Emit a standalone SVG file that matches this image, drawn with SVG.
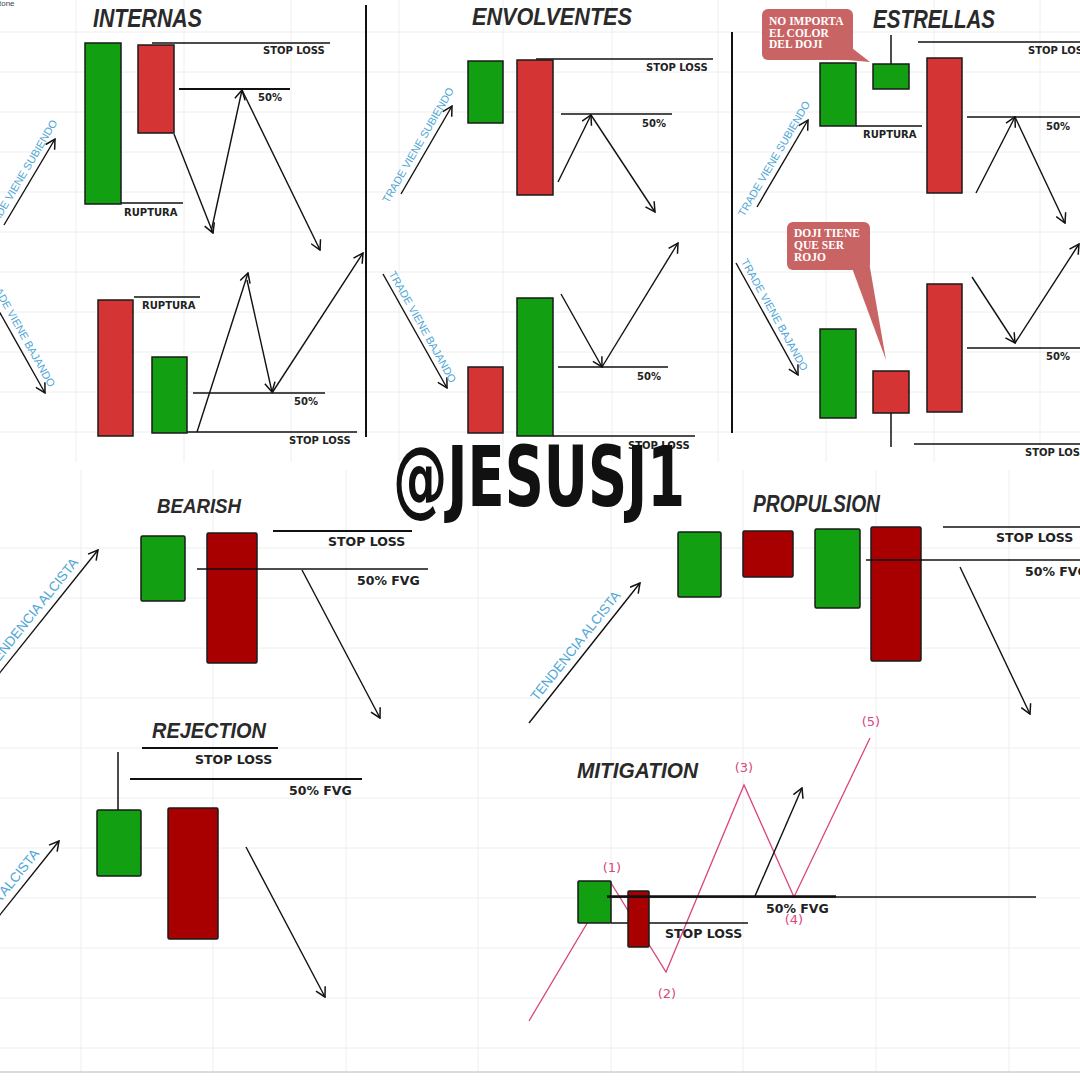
<svg xmlns="http://www.w3.org/2000/svg" width="1080" height="1080" viewBox="0 0 1080 1080">
<defs>
<marker id="ah" viewBox="0 0 12 12" refX="11" refY="6" markerWidth="12" markerHeight="12" markerUnits="userSpaceOnUse" orient="auto">
<path d="M1.5,0.8 L11,6 L1.5,11.2" fill="none" stroke="#111" stroke-width="1.5" stroke-linejoin="miter"/>
</marker>
<style>
.g{fill:#12a012;stroke:#1a1a1a;stroke-width:1.5}
.r{fill:#d43434;stroke:#1a1a1a;stroke-width:1.5}
.dr{fill:#a80000;stroke:#1a1a1a;stroke-width:1.5}
.ln{stroke:#111;stroke-width:1.5;fill:none}
.lt{stroke:#111;stroke-width:2;fill:none}
.ar{stroke:#111;stroke-width:1.4;fill:none;marker-end:url(#ah)}
.grid{stroke:#eeeeee;stroke-width:1}
.t{font-family:"Liberation Sans",Arial,sans-serif;font-weight:bold;font-style:italic;fill:#2a2a2a}
.lb{font-family:"DejaVu Sans",Verdana,sans-serif;font-weight:bold;font-size:10px;fill:#222}
.lb2{font-family:"DejaVu Sans",Verdana,sans-serif;font-weight:bold;font-size:12.5px;fill:#222}
.bl{font-family:"Liberation Sans",Arial,sans-serif;fill:#4ea6d6;font-size:10.8px}
.bl2{font-family:"Liberation Sans",Arial,sans-serif;fill:#4ea6d6;font-size:13.5px}
.bub{fill:#c96464}
.bt{font-family:"Liberation Serif","Times New Roman",serif;font-weight:bold;font-size:11.5px;fill:#fff}
.pk{stroke:#d9467e;stroke-width:1.3;fill:none}
.pt{font-family:"DejaVu Sans",sans-serif;font-size:13px;fill:#d9467e}
</style>
</defs>
<rect width="1080" height="1080" fill="#fff"/>
<g id="grid">
<g class="grid">
<line x1="0" y1="32" x2="1080" y2="32"/><line x1="0" y1="72" x2="1080" y2="72"/><line x1="0" y1="112" x2="1080" y2="112"/><line x1="0" y1="152" x2="1080" y2="152"/><line x1="0" y1="192" x2="1080" y2="192"/><line x1="0" y1="232" x2="1080" y2="232"/><line x1="0" y1="272" x2="1080" y2="272"/><line x1="0" y1="312" x2="1080" y2="312"/><line x1="0" y1="352" x2="1080" y2="352"/><line x1="0" y1="392" x2="1080" y2="392"/><line x1="0" y1="432" x2="1080" y2="432"/>
<line x1="76" y1="0" x2="76" y2="462"/><line x1="184" y1="0" x2="184" y2="462"/><line x1="291" y1="0" x2="291" y2="462"/><line x1="399" y1="0" x2="399" y2="462"/><line x1="503" y1="0" x2="503" y2="462"/><line x1="612" y1="0" x2="612" y2="462"/><line x1="718" y1="0" x2="718" y2="462"/><line x1="826" y1="0" x2="826" y2="462"/><line x1="934" y1="0" x2="934" y2="462"/><line x1="1040" y1="0" x2="1040" y2="462"/>
<line x1="0" y1="548" x2="1080" y2="548"/><line x1="0" y1="598" x2="1080" y2="598"/><line x1="0" y1="648" x2="1080" y2="648"/><line x1="0" y1="698" x2="1080" y2="698"/><line x1="0" y1="748" x2="1080" y2="748"/><line x1="0" y1="798" x2="1080" y2="798"/><line x1="0" y1="848" x2="1080" y2="848"/><line x1="0" y1="898" x2="1080" y2="898"/><line x1="0" y1="948" x2="1080" y2="948"/><line x1="0" y1="998" x2="1080" y2="998"/><line x1="0" y1="1048" x2="1080" y2="1048"/>
<line x1="81" y1="470" x2="81" y2="1072"/><line x1="213" y1="470" x2="213" y2="1072"/><line x1="346" y1="470" x2="346" y2="1072"/><line x1="478" y1="470" x2="478" y2="1072"/><line x1="611" y1="470" x2="611" y2="1072"/><line x1="743" y1="470" x2="743" y2="1072"/><line x1="876" y1="470" x2="876" y2="1072"/><line x1="1009" y1="470" x2="1009" y2="1072"/>
</g>
<line x1="0" y1="1072" x2="1080" y2="1072" stroke="#cfcfcf" stroke-width="1.5"/>
<text x="-1" y="6" font-family="Liberation Sans, sans-serif" font-size="8" fill="#444">tone</text>
<line x1="366" y1="5" x2="366" y2="437" stroke="#111" stroke-width="2"/>
<line x1="732" y1="32" x2="732" y2="433" stroke="#111" stroke-width="2"/>
</g>

<g id="connectors">
<!-- INTERNAS -->
<line class="ln" x1="152" y1="43" x2="330" y2="43"/>
<line class="lt" x1="179" y1="89" x2="290" y2="89"/>
<line class="ln" x1="121" y1="203" x2="183" y2="203" stroke-width="1"/>
<line class="ar" x1="174" y1="134" x2="213" y2="233"/>
<line class="ar" x1="211" y1="232" x2="242" y2="90"/>
<line class="ar" x1="242" y1="90" x2="320" y2="250"/>
<line class="ln" x1="134" y1="297" x2="200" y2="297" stroke-width="1"/>
<line class="ln" x1="180" y1="432" x2="357" y2="432"/>
<line class="ln" x1="193" y1="393" x2="325" y2="393"/>
<line class="ar" x1="197" y1="432" x2="248" y2="273"/>
<line class="ar" x1="247" y1="280" x2="272" y2="392"/>
<line class="ar" x1="272" y1="393" x2="363" y2="253"/>
<line class="ar" x1="4" y1="225" x2="55" y2="139"/>
<line class="ar" x1="-19" y1="279" x2="45" y2="393"/>
<!-- ENVOLVENTES -->
<line class="ln" x1="536" y1="59" x2="713" y2="59"/>
<line class="ln" x1="561" y1="114" x2="672" y2="114"/>
<line class="ar" x1="558" y1="182" x2="591" y2="115"/>
<line class="ar" x1="591" y1="115" x2="655" y2="212"/>
<line class="ln" x1="558" y1="367" x2="668" y2="367"/>
<line class="ln" x1="553" y1="436" x2="695" y2="436"/>
<line class="ar" x1="561" y1="294" x2="602" y2="367"/>
<line class="ar" x1="602" y1="367" x2="678" y2="243"/>
<line class="ar" x1="401" y1="194" x2="452" y2="106"/>
<line class="ar" x1="383" y1="274" x2="447" y2="388"/>
<!-- ESTRELLAS -->
<line class="ln" x1="918" y1="42" x2="1080" y2="42"/>
<line class="ln" x1="856" y1="126" x2="922" y2="126"/>
<line class="ln" x1="967" y1="117" x2="1080" y2="117"/>
<line class="ln" x1="891" y1="35" x2="891" y2="64"/>
<line class="ar" x1="976" y1="193" x2="1015" y2="117"/>
<line class="ar" x1="1015" y1="117" x2="1065" y2="223"/>
<line class="ln" x1="967" y1="348" x2="1080" y2="348"/>
<line class="ln" x1="914" y1="444" x2="1080" y2="444"/>
<line class="ln" x1="891" y1="413" x2="891" y2="447"/>
<line class="ar" x1="972" y1="277" x2="1015" y2="343"/>
<line class="ar" x1="1015" y1="343" x2="1079" y2="244"/>
<line class="ar" x1="757" y1="207" x2="808" y2="120"/>
<line class="ar" x1="736" y1="263" x2="798" y2="375"/>
<!-- BEARISH -->
<line class="lt" x1="273" y1="531" x2="412" y2="531"/>
<line class="ar" x1="302" y1="570" x2="380" y2="718"/>
<line class="ar" x1="-14" y1="690" x2="98" y2="550"/>
<!-- PROPULSION -->
<line class="ln" x1="943" y1="527" x2="1080" y2="527"/>
<line class="ar" x1="960" y1="567" x2="1030" y2="714"/>
<line class="ar" x1="529" y1="723" x2="640" y2="583"/>
<!-- REJECTION -->
<line class="lt" x1="142" y1="748" x2="278" y2="748"/>
<line class="lt" x1="130" y1="779" x2="362" y2="779"/>
<line class="ln" x1="118" y1="752" x2="118" y2="810"/>
<line class="ar" x1="246" y1="847" x2="325" y2="997"/>
<line class="ar" x1="-53" y1="981" x2="59" y2="841"/>
<!-- MITIGATION -->
<path class="pk" d="M529,1021 L611,883 L666,972 L744,785 L794,897 L870,738"/>
<line class="ln" x1="611" y1="923" x2="748" y2="923"/>
<line class="ar" x1="755" y1="896" x2="802" y2="788"/>
</g>

<g id="titles">
<text class="t" x="93" y="27" font-size="25" textLength="109" lengthAdjust="spacingAndGlyphs">INTERNAS</text>
<text class="t" x="472" y="25" font-size="24" textLength="160" lengthAdjust="spacingAndGlyphs">ENVOLVENTES</text>
<text class="t" x="873" y="28" font-size="25" textLength="122" lengthAdjust="spacingAndGlyphs">ESTRELLAS</text>
<text class="t" x="157" y="513" font-size="21" textLength="84" lengthAdjust="spacingAndGlyphs">BEARISH</text>
<text class="t" x="753" y="512" font-size="23" textLength="127" lengthAdjust="spacingAndGlyphs">PROPULSION</text>
<text class="t" x="152" y="738" font-size="22" textLength="114" lengthAdjust="spacingAndGlyphs">REJECTION</text>
<text class="t" x="577" y="778" font-size="22" textLength="121" lengthAdjust="spacingAndGlyphs">MITIGATION</text>
</g>

<g id="internas">
<g id="int-c1"><rect class="g" x="85" y="43" width="36" height="161"/></g>
<g id="int-c2"><rect class="r" x="138" y="45" width="36" height="88"/></g>
<g id="int-c3"><rect class="r" x="98" y="300" width="35" height="136"/></g>
<g id="int-c4"><rect class="g" x="152" y="357" width="35" height="76"/></g>
<text class="lb" x="263" y="54">STOP LOSS</text>
<text class="lb" x="258" y="101">50%</text>
<text class="lb" x="124" y="216">RUPTURA</text>
<text class="lb" x="142" y="309">RUPTURA</text>
<text class="lb" x="294" y="405">50%</text>
<text class="lb" x="289" y="444">STOP LOSS</text>
<text class="bl" text-anchor="middle" transform="translate(24.3,178.9) rotate(-59.3)">TRADE VIENE SUBIENDO</text>
<text class="bl" text-anchor="middle" transform="translate(18.2,333) rotate(60.7)">TRADE VIENE BAJANDO</text>
</g>

<g id="envolventes">
<g id="env-c1"><rect class="g" x="468" y="61" width="35" height="62"/></g>
<g id="env-c2"><rect class="r" x="517" y="60" width="36" height="135"/></g>
<g id="env-c3"><rect class="r" x="468" y="367" width="35" height="66"/></g>
<g id="env-c4"><rect class="g" x="517" y="298" width="36" height="138"/></g>
<text class="lb" x="646" y="71">STOP LOSS</text>
<text class="lb" x="642" y="127">50%</text>
<text class="lb" x="637" y="380">50%</text>
<text class="lb" x="628" y="449">STOP LOSS</text>
<text class="bl" text-anchor="middle" transform="translate(421.3,147) rotate(-59.9)">TRADE VIENE SUBIENDO</text>
<text class="bl" text-anchor="middle" transform="translate(419.4,328.6) rotate(60.7)">TRADE VIENE BAJANDO</text>
</g>

<g id="estrellas">
<g id="est-c1"><rect class="g" x="820" y="63" width="36" height="63"/></g>
<g id="est-c2"><rect class="g" x="873" y="64" width="36" height="25"/></g>
<g id="est-c3"><rect class="r" x="927" y="58" width="35" height="135"/></g>
<g id="est-c4"><rect class="g" x="820" y="329" width="36" height="89"/></g>
<g id="est-c5"><rect class="r" x="873" y="371" width="36" height="42"/></g>
<g id="est-c6"><rect class="r" x="927" y="284" width="35" height="128"/></g>
<text class="lb" x="1028" y="54">STOP LOSS</text>
<text class="lb" x="863" y="138">RUPTURA</text>
<text class="lb" x="1046" y="130">50%</text>
<text class="lb" x="1046" y="360">50%</text>
<text class="lb" x="1025" y="456">STOP LOSS</text>
<text class="bl" text-anchor="middle" transform="translate(777.3,160.5) rotate(-59.6)">TRADE VIENE SUBIENDO</text>
<text class="bl" text-anchor="middle" transform="translate(771.4,316.6) rotate(61)">TRADE VIENE BAJANDO</text>
<g id="bubble1">
<rect class="bub" x="762" y="9" width="91" height="51" rx="6"/>
<polygon class="bub" points="836,59 852,48 870,62"/>
<text class="bt" x="769" y="25">NO IMPORTA</text>
<text class="bt" x="769" y="37">EL COLOR</text>
<text class="bt" x="769" y="48">DEL DOJI</text>
</g>
<g id="bubble2">
<rect class="bub" x="787" y="222" width="83" height="48" rx="6"/>
<polygon class="bub" points="852,268 869,262 886,360"/>
<text class="bt" x="794" y="237">DOJI TIENE</text>
<text class="bt" x="794" y="249">QUE SER</text>
<text class="bt" x="794" y="261">ROJO</text>
</g>
</g>

<g id="bearish">
<g id="bear-c1"><rect class="g" x="141" y="536" width="44" height="65" rx="1.5"/></g>
<g id="bear-c2"><rect class="dr" x="207" y="533" width="50" height="130" rx="1.5"/></g>
<line class="ln" x1="197" y1="569" x2="428" y2="569"/>
<text class="lb2" x="328" y="546">STOP LOSS</text>
<text class="lb2" x="357" y="585">50% FVG</text>
<text class="bl2" text-anchor="middle" transform="translate(36.5,615.6) rotate(-51.3)">TENDENCIA ALCISTA</text>
</g>

<g id="propulsion">
<g id="prop-c1"><rect class="g" x="678" y="532" width="43" height="65" rx="1.5"/></g>
<g id="prop-c2"><rect class="dr" x="743" y="531" width="50" height="46" rx="1.5"/></g>
<g id="prop-c3"><rect class="g" x="815" y="529" width="45" height="79" rx="1.5"/></g>
<g id="prop-c4"><rect class="dr" x="871" y="527" width="50" height="134" rx="1.5"/></g>
<line class="ln" x1="866" y1="560" x2="1080" y2="560"/>
<text class="lb2" x="996" y="542">STOP LOSS</text>
<text class="lb2" x="1025" y="576">50% FVG</text>
<text class="bl2" text-anchor="middle" transform="translate(579,648.7) rotate(-51.6)">TENDENCIA ALCISTA</text>
</g>

<g id="rejection">
<g id="rej-c1"><rect class="g" x="97" y="810" width="44" height="66" rx="1.5"/></g>
<g id="rej-c2"><rect class="dr" x="168" y="808" width="50" height="131" rx="1.5"/></g>
<text class="lb2" x="195" y="764">STOP LOSS</text>
<text class="lb2" x="289" y="795">50% FVG</text>
<text class="bl2" text-anchor="middle" transform="translate(-2.5,906.6) rotate(-51.3)">TENDENCIA ALCISTA</text>
</g>

<g id="mitigation">
<g id="mit-c1"><rect class="g" x="578" y="881" width="33" height="42" rx="1"/></g>
<g id="mit-c2"><rect class="dr" x="628" y="891" width="21" height="56" rx="1"/></g>
<line stroke="#111" stroke-width="1.5" x1="607" y1="897" x2="1036" y2="897"/>
<line stroke="#111" stroke-width="2.5" x1="607" y1="896.5" x2="836" y2="896.5"/>
<text class="lb2" x="665" y="938">STOP LOSS</text>
<text class="pt" x="612" y="872" text-anchor="middle">(1)</text>
<text class="pt" x="667" y="998" text-anchor="middle">(2)</text>
<text class="pt" x="744" y="772" text-anchor="middle">(3)</text>
<text class="pt" x="794" y="924" text-anchor="middle">(4)</text>
<text class="pt" x="871" y="726" text-anchor="middle">(5)</text>
<text class="lb2" x="766" y="913">50% FVG</text>
</g>

<g id="watermark">
<text x="393" y="506" font-family="Liberation Sans Narrow, DejaVu Sans Condensed, Liberation Sans, sans-serif" font-weight="bold" font-size="84" fill="#111" textLength="292" lengthAdjust="spacingAndGlyphs">@JESUSJ1</text>
</g>
</svg>
